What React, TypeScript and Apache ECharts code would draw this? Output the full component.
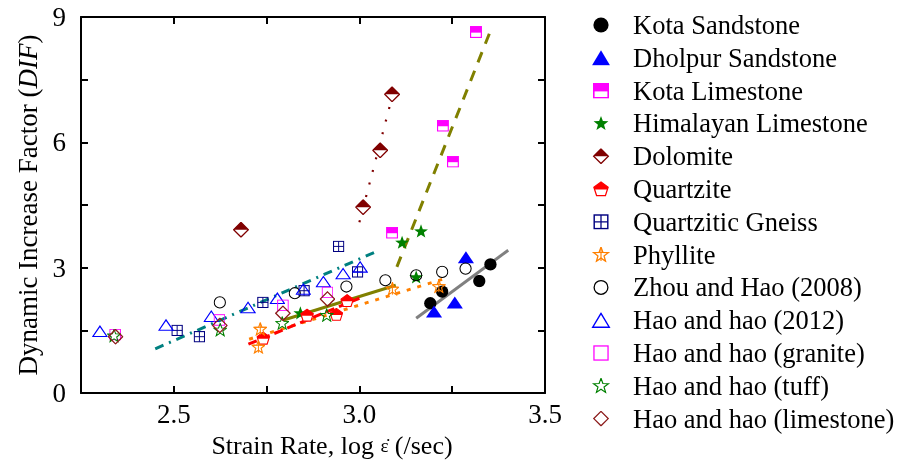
import React, { useEffect, useRef } from "react";
import * as echarts from "echarts";

// ---- data (log strain rate, DIF) ----
const kotaSandstone = [[3.191, 2.15], [3.223, 2.43], [3.323, 2.68], [3.353, 3.08]];
const dholpurSandstone = [[3.201, 1.95], [3.257, 2.17], [3.287, 3.25]];
const kotaLimestone = [[3.088, 3.84], [3.225, 6.40], [3.252, 5.54], [3.314, 8.64]];
const himalayanLimestone = [[2.841, 1.91], [3.115, 3.60], [3.153, 2.77], [3.166, 3.87]];
const dolomite = [[2.681, 3.91], [3.010, 4.45], [3.056, 5.81], [3.088, 7.15]];
const quartzite = [[2.741, 1.31], [2.859, 1.86], [2.938, 1.88], [2.967, 2.21]];
const quartziticGneiss = [[2.509, 1.50], [2.569, 1.35], [2.740, 2.17], [2.851, 2.45], [2.944, 3.51], [2.995, 2.90]];
const phyllite = [[2.728, 1.10], [2.733, 1.53], [3.089, 2.49], [3.214, 2.55]];
const zhouHao2008 = [[2.624, 2.17], [2.826, 2.39], [2.965, 2.55], [3.070, 2.70], [3.153, 2.82], [3.223, 2.90], [3.286, 2.98]];
const haoHao2012 = [[2.301, 1.48], [2.479, 1.63], [2.601, 1.84], [2.700, 2.05], [2.779, 2.27], [2.849, 2.49], [2.903, 2.67], [2.956, 2.86], [3.002, 3.02]];
const haoGranite = [[2.342, 1.40], [2.623, 1.75], [2.794, 2.10], [2.914, 2.41]];
const haoTuff = [[2.339, 1.37], [2.625, 1.51], [2.792, 1.67], [2.912, 1.86]];
const haoLimestone = [[2.343, 1.35], [2.624, 1.62], [2.794, 1.91], [2.914, 2.25]];

// trend lines
const trendKotaSandstone = [[3.153, 1.79], [3.401, 3.42]];
const trendKotaLimestone = [[3.101, 3.02], [3.350, 8.60]];
const trendHimalayan = [[2.796, 1.75], [3.098, 2.58]];
const trendDolomite = [[3.0, 4.09], [3.09, 7.15]];
const trendPhyllite = [[2.703, 1.29], [3.237, 2.76]];
const trendQuartzite = [[2.701, 1.17], [3.0, 2.27]];
const trendGneiss = [[2.450, 1.06], [3.051, 3.41]];

const xTicks = { min: 2.25, max: 3.5, step: 0.25 };
const yTicks = { min: 0, max: 9, step: 1.5 };

const FONT = '"Liberation Serif", "Times New Roman", serif';

function img(w: number, h: number, body: string) {
  const svg = `<svg xmlns='http://www.w3.org/2000/svg' width='${w}' height='${h}' viewBox='0 0 ${w} ${h}'>${body}</svg>`;
  return "image://data:image/svg+xml;charset=utf-8," + encodeURIComponent(svg);
}

const STAR = "10,0.63 12.35,7.14 19.28,7.36 13.8,11.61 15.73,18.26 10,14.38 4.28,18.26 6.2,11.61 0.73,7.36 7.65,7.14";

const sym = {
  filledCircle: img(20, 20, `<circle cx='10' cy='10' r='9.5' fill='#000'/>`),
  filledTriangle: img(20, 17, `<polygon points='10,0.5 19.5,16.5 0.5,16.5' fill='#0000ff'/>`),
  halfSquare: img(20, 20, `<rect x='1' y='1' width='18' height='18' fill='#fff' stroke='#ff00ff' stroke-width='2'/><rect x='1' y='1' width='18' height='10' fill='#ff00ff'/>`),
  filledStar: img(20, 20, `<polygon points='${STAR}' fill='#008000'/>`),
  halfDiamond: img(20, 20, `<polygon points='10,0.8 19.2,10 10,19.2 0.8,10' fill='#fff' stroke='#800000' stroke-width='1.6'/><polygon points='10,0.8 19.2,10 0.8,10' fill='#800000'/>`),
  halfPentagon: img(20, 20, `<polygon points='10,1.25 18.9,7.75 15.5,18.25 4.5,18.25 1.1,7.75' fill='#fff' stroke='#ff0000' stroke-width='1.6'/><polygon points='10,1.25 18.9,7.75 17.98,10.6 2.02,10.6 1.1,7.75' fill='#ff0000'/>`),
  crossSquare: img(20, 20, `<rect x='1.5' y='1.5' width='17' height='17' fill='none' stroke='#000080' stroke-width='1.8'/><line x1='10' y1='1.5' x2='10' y2='18.5' stroke='#000080' stroke-width='1.6'/><line x1='1.5' y1='10' x2='18.5' y2='10' stroke='#000080' stroke-width='1.6'/>`),
  phylliteStar: img(20, 20, `<polygon points='${STAR}' fill='none' stroke='#ff8000' stroke-width='1.6'/><line x1='10' y1='1' x2='10' y2='18' stroke='#ff8000' stroke-width='1.4'/><line x1='1.5' y1='7.3' x2='18.5' y2='7.3' stroke='#ff8000' stroke-width='1.4'/>`),
  openCircle: img(20, 20, `<circle cx='10' cy='10' r='8.6' fill='none' stroke='#000' stroke-width='1.6'/>`),
  openTriangle: img(20, 17, `<polygon points='10,1.2 18.8,16 1.2,16' fill='none' stroke='#0000ff' stroke-width='1.5'/>`),
  openSquare: img(20, 20, `<rect x='1.2' y='1.2' width='17.6' height='17.6' fill='none' stroke='#ff00ff' stroke-width='1.6'/>`),
  openStar: img(20, 20, `<polygon points='${STAR}' fill='none' stroke='#008000' stroke-width='1.5'/>`),
  openDiamond: img(20, 20, `<polygon points='10,1 19,10 10,19 1,10' fill='none' stroke='#8b1a1a' stroke-width='1.6'/>`),
};

const pointSeries = [
  { name: "Kota Sandstone", data: kotaSandstone, symbol: sym.filledCircle, size: [13, 13] },
  { name: "Dholpur Sandstone", data: dholpurSandstone, symbol: sym.filledTriangle, size: [17, 15] },
  { name: "Kota Limestone", data: kotaLimestone, symbol: sym.halfSquare, size: [12, 12] },
  { name: "Himalayan Limestone", data: himalayanLimestone, symbol: sym.filledStar, size: [15, 15] },
  { name: "Dolomite", data: dolomite, symbol: sym.halfDiamond, size: [16, 16] },
  { name: "Quartzite", data: quartzite, symbol: sym.halfPentagon, size: [14, 14] },
  { name: "Quartzitic Gneiss", data: quartziticGneiss, symbol: sym.crossSquare, size: [12, 12] },
  { name: "Phyllite", data: phyllite, symbol: sym.phylliteStar, size: [14, 14] },
  { name: "Zhou and Hao (2008)", data: zhouHao2008, symbol: sym.openCircle, size: [13, 13] },
  { name: "Hao and hao (2012)", data: haoHao2012, symbol: sym.openTriangle, size: [16, 14] },
  { name: "Hao and hao (granite)", data: haoGranite, symbol: sym.openSquare, size: [12, 12] },
  { name: "Hao and hao (tuff)", data: haoTuff, symbol: sym.openStar, size: [14, 14] },
  { name: "Hao and hao (limestone)", data: haoLimestone, symbol: sym.openDiamond, size: [16, 16] },
];

const lineSeries = [
  { name: "trendKotaSandstone", data: trendKotaSandstone, color: "#808080", width: 3, type: "solid" as any },
  { name: "trendKotaLimestone", data: trendKotaLimestone, color: "#808000", width: 3, type: [11, 9] },
  { name: "trendHimalayan", data: trendHimalayan, color: "#808000", width: 3, type: "solid" as any },
  { name: "trendDolomite", data: trendDolomite, color: "#800000", width: 2.2, type: [2, 11] },
  { name: "trendPhyllite", data: trendPhyllite, color: "#ff8000", width: 3, type: [4, 7] },
  { name: "trendQuartzite", data: trendQuartzite, color: "#ff0000", width: 3, type: [9, 5] },
  { name: "trendGneiss", data: trendGneiss, color: "#008080", width: 3, type: [9, 6, 2, 6] },
];

export default function App() {
  const ref = useRef<HTMLDivElement>(null);
  useEffect(() => {
    if (!ref.current) return;
    const chart = echarts.init(ref.current, undefined, { renderer: "svg" });
    const axisLine = { show: true, onZero: false, lineStyle: { color: "#000", width: 2 } };
    const axisTick = { show: true, inside: true, length: 7, lineStyle: { color: "#000", width: 2 } };
    const xBase = { type: "value", min: xTicks.min, max: xTicks.max, interval: xTicks.step, axisLine, axisTick, splitLine: { show: false } };
    const yBase = { type: "value", min: yTicks.min, max: yTicks.max, interval: yTicks.step, axisLine, axisTick, splitLine: { show: false } };
    chart.setOption({
      animation: false,
      textStyle: { fontFamily: FONT },
      grid: { left: 81, right: 366, top: 17, bottom: 68 },
      xAxis: [
        {
          ...xBase,
          position: "bottom",
          name: "Strain Rate, log {e|ε̇} (/sec)",
          nameLocation: "middle",
          nameGap: 31,
          nameTextStyle: {
            fontFamily: FONT, fontSize: 26, color: "#000", padding: [0, 0, 0, 38],
            rich: { e: { fontFamily: FONT, fontSize: 19, color: "#000" } },
          },
          axisLabel: {
            fontFamily: FONT, fontSize: 27, color: "#000", margin: 7,
            formatter: (v: number) => (Math.abs(v * 2 - Math.round(v * 2)) < 1e-6 ? v.toFixed(1) : ""),
          },
        },
        { ...xBase, position: "top", axisLabel: { show: false } },
      ],
      yAxis: [
        {
          ...yBase,
          position: "left",
          name: "Dynamic Increase Factor ({i|DIF})",
          nameLocation: "middle",
          nameGap: 31,
          nameTextStyle: {
            fontFamily: FONT, fontSize: 27, color: "#000",
            rich: { i: { fontFamily: FONT, fontSize: 27, fontStyle: "italic", color: "#000" } },
          },
          axisLabel: {
            fontFamily: FONT, fontSize: 27, color: "#000", margin: 15,
            formatter: (v: number) => (Math.abs(v % 3) < 1e-6 ? String(v) : ""),
          },
        },
        { ...yBase, position: "right", axisLabel: { show: false } },
      ],
      legend: {
        orient: "vertical",
        left: 574,
        top: 11,
        padding: 0,
        itemWidth: 54,
        itemHeight: 16,
        itemGap: 4.8,
        symbolKeepAspect: true,
        selectedMode: false,
        itemStyle: { opacity: 1 },
        textStyle: { fontFamily: FONT, fontSize: 26.5, color: "#000", lineHeight: 28 },
        data: pointSeries.map((s) => ({ name: s.name, icon: s.symbol })),
      },
      series: [
        ...lineSeries.map((l) => ({
          name: l.name,
          type: "line",
          data: l.data,
          symbol: "none",
          silent: true,
          z: 1,
          lineStyle: { color: l.color, width: l.width, type: l.type },
        })),
        ...pointSeries.map((s) => ({
          name: s.name,
          type: "scatter",
          data: s.data,
          symbol: s.symbol,
          symbolSize: s.size,
          itemStyle: { opacity: 1 },
          z: 3,
        })),
      ],
    });
    return () => chart.dispose();
  }, []);
  return <div ref={ref} style={{ position: "fixed", left: 0, top: 0, width: 911, height: 463 }} />;
}
